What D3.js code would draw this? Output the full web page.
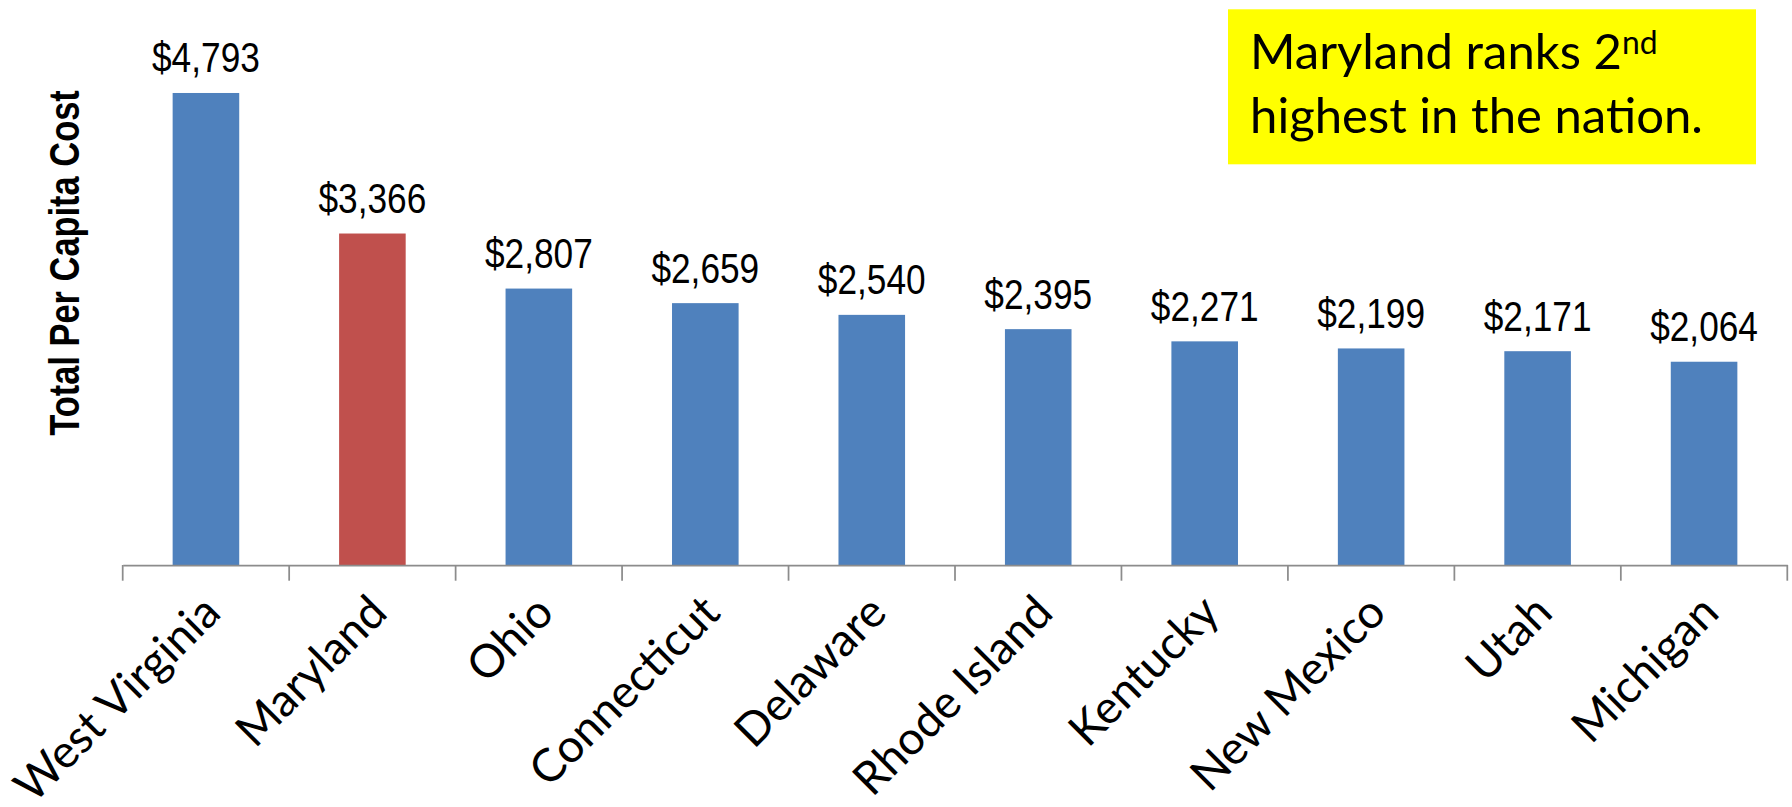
<!DOCTYPE html>
<html>
<head>
<meta charset="utf-8">
<script src="https://cdn.jsdelivr.net/npm/d3@7/dist/d3.min.js"></script>
<style>
  html, body { margin: 0; padding: 0; background: #ffffff; }
  svg { display: block; }
</style>
</head>
<body>
<svg id="chart" width="1792" height="807"></svg>
<script>
// ---- data ----
const categories = ["West Virginia", "Maryland", "Ohio", "Connecticut", "Delaware",
                    "Rhode Island", "Kentucky", "New Mexico", "Utah", "Michigan"];
const values = [4793, 3366, 2807, 2659, 2540, 2395, 2271, 2199, 2171, 2064];
const highlighted = ["Maryland"];
const yAxisTitle = "Total Per Capita Cost";
const noteLine1 = "Maryland ranks 2";
const noteSup = "nd";
const noteLine2 = "highest in the nation.";

// ---- setup ----
const svg = d3.select("#chart");
const W = 1792, H = 807;
svg.append("rect").attr("width", W).attr("height", H).attr("fill", "#ffffff");

function measure(text, family, size, weight) {
  const t = svg.append("text").attr("font-family", family).attr("font-size", size)
    .attr("font-weight", weight || "normal").text(text);
  const w = t.node().getComputedTextLength();
  t.remove();
  return w;
}

// detect a real narrow font (compare against a monospace fallback)
const nA = measure("$4,793 Total", "'Liberation Sans Narrow', monospace", 100);
const nB = measure("$4,793 Total", "monospace", 100);
const nR = measure("$4,793 Total", "'Liberation Sans', monospace", 100);
const narrowOK = Math.abs(nA - nB) > 1 && nA < 0.9 * nR;
const narrowFamily = narrowOK ? "'Liberation Sans Narrow', sans-serif" : "'Liberation Sans', Arial, sans-serif";
const squeeze = narrowOK ? 1 : 0.82;

const labelFamily = "Lato, 'Open Sans', sans-serif";

const x = d3.scaleBand().domain(categories).range([122.7, 1787.3])
  .paddingInner(0.6).paddingOuter(0.3);
const y = d3.scaleLinear().domain([0, 5000]).range([565, 72.6]);

const colorFor = c => highlighted.includes(c) ? "#C0504D" : "#4F81BD";

// ---- bars ----
const data = categories.map((c, i) => ({ c, v: values[i] }));
svg.append("g").selectAll("rect").data(data).join("rect")
  .attr("x", d => x(d.c))
  .attr("y", d => y(d.v))
  .attr("width", x.bandwidth())
  .attr("height", d => y(0) - y(d.v))
  .attr("fill", d => colorFor(d.c));

// ---- value labels ----
const valSize = 43;
const fmt = d3.format("$,.0f");
svg.append("g").selectAll("text").data(data).join("text")
  .attr("transform", d => `translate(${x(d.c) + x.bandwidth() / 2},${y(d.v) - 20.5}) scale(${squeeze},1)`)
  .attr("text-anchor", "middle")
  .attr("font-family", narrowFamily)
  .attr("font-size", valSize)
  .attr("fill", "#000")
  .text(d => fmt(d.v));

// ---- x axis ----
const catTarget = 190; // baseline length of "Maryland"
const catSize = 100 * catTarget / measure("Maryland", labelFamily, 100);

const xAxis = d3.axisBottom(x).tickSize(0).tickSizeOuter(0).tickPadding(0);
const gx = svg.append("g").attr("transform", `translate(0,${y(0)})`).call(xAxis);
gx.select(".domain").attr("stroke", "#8c8c8c").attr("stroke-width", 1.75);
gx.selectAll(".tick text")
  .attr("text-anchor", "end")
  .attr("y", 0).attr("dy", 0)
  .attr("transform", "translate(17,50) rotate(-45)")
  .attr("font-family", labelFamily)
  .attr("font-size", catSize)
  .attr("fill", "#000");

// boundary ticks between categories
const step = x.step();
const bounds = d3.range(categories.length + 1).map(i => x.range()[0] + i * step);
svg.append("g").selectAll("line").data(bounds).join("line")
  .attr("x1", d => d).attr("x2", d => d)
  .attr("y1", y(0)).attr("y2", y(0) + 15.7)
  .attr("stroke", "#8c8c8c").attr("stroke-width", 1.75);

// ---- y axis title ----
svg.append("text")
  .attr("transform", `translate(79.3,263) rotate(-90) scale(${squeeze},1)`)
  .attr("text-anchor", "middle")
  .attr("font-family", narrowFamily)
  .attr("font-weight", "bold")
  .attr("font-size", 42)
  .attr("fill", "#000")
  .text(yAxisTitle);

// ---- annotation box ----
svg.append("rect").attr("x", 1228).attr("y", 9.3).attr("width", 528).attr("height", 155)
  .attr("fill", "#FFFF00");
const noteSize1 = 100 * 372 / measure(noteLine1, labelFamily, 100);
const noteSize2 = 100 * 453 / measure(noteLine2, labelFamily, 100);
const t1 = svg.append("text").attr("x", 1250).attr("y", 69)
  .attr("font-family", labelFamily).attr("font-size", noteSize1).attr("fill", "#000");
t1.append("tspan").text(noteLine1);
t1.append("tspan").attr("font-size", noteSize1 * 0.65).attr("dy", -noteSize1 * 0.31).text(noteSup);
svg.append("text").attr("x", 1250).attr("y", 133.3)
  .attr("font-family", labelFamily).attr("font-size", noteSize2).attr("fill", "#000")
  .text(noteLine2);
</script>
</body>
</html>
